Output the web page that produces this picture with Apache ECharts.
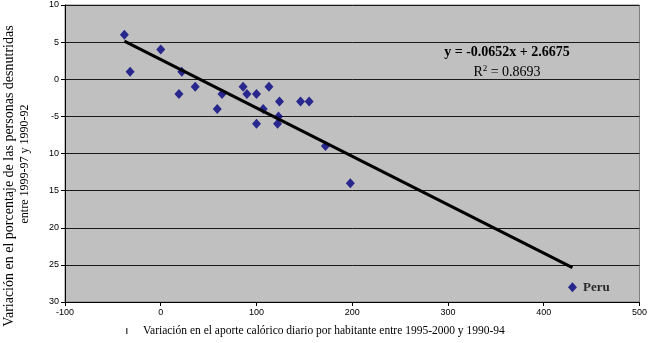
<!DOCTYPE html>
<html>
<head>
<meta charset="utf-8">
<script src="https://cdn.jsdelivr.net/npm/echarts@6/dist/echarts.min.js"></script>
<style>
  html, body { margin: 0; padding: 0; background: #ffffff; }
  #chart { width: 650px; height: 343px; }
</style>
</head>
<body>
<div id="chart"></div>
<script>
// Change in daily calorie supply per person (x) vs change in undernourished share (y)
const countryX = [-38, 0, -32, 22, 19, 36, 64, 59, 86, 90, 100, 113, 107, 100, 124, 123, 122, 146, 155, 172, 198, 430];
const countryY = [6, 4, 1, 1, -2, -1, -2, -4, -1, -2, -2, -1, -4, -6, -3, -5, -6, -3, -3, -9, -14, -28];
const pointNames = ['', '', '', '', '', '', '', '', '', '', '', '', '', '', '', '', '', '', '', '', '', 'Peru'];

// Linear trendline as reported on the chart
const trendSlope = -0.0652;
const trendIntercept = 2.6675;
const trendText = ['y = -0.0652x + 2.6675', 'R\u00b2 = 0.8693'];

// Axis tick labels
const xTickValues = [-100, 0, 100, 200, 300, 400, 500];
const xTickLabels = ['-100', '0', '100', '200', '300', '400', '500'];
const yTickValues = [-30, -25, -20, -15, -10, -5, 0, 5, 10];
const yTickLabels = ['30', '25', '20', '15', '10', '-5', '0', '5', '10'];

const yTitleLines = ['Variación en el porcentaje de las personas desnutridas', 'entre 1999-97 y 1990-92'];
const xTitle = 'Variación en el aporte calórico diario por habitante entre 1995-2000 y 1990-94';

const scatterData = countryX.map((x, i) => ({
  value: [x, countryY[i]],
  name: pointNames[i],
  label: pointNames[i] ? {
    show: true, position: 'right', distance: 6,
    formatter: '{b}', color: '#000', fontFamily: 'Liberation Serif',
    fontWeight: 'bold', fontSize: 13
  } : { show: false }
}));

const xMinData = Math.min(...countryX);
const xMaxData = Math.max(...countryX);
const trendData = [xMinData, xMaxData].map(x => [x, trendSlope * x + trendIntercept]);

const chart = echarts.init(document.getElementById('chart'), null, { renderer: 'canvas' });

const tickFont = { fontFamily: 'Liberation Sans', fontSize: 9, color: '#000' };

chart.setOption({
  animation: false,
  backgroundColor: '#ffffff',
  grid: {
    left: 65, right: 9, top: 5, bottom: 41,
    show: true, backgroundColor: '#c0c0c0',
    borderColor: '#808080', borderWidth: 1
  },
  xAxis: {
    type: 'value', min: -100, max: 500, interval: 100,
    axisLine: { show: true, onZero: false, lineStyle: { color: '#000', width: 1 } },
    axisTick: { show: true, length: 4, lineStyle: { color: '#000' } },
    splitLine: { show: false },
    axisLabel: Object.assign({
      margin: 6,
      formatter: v => { const i = xTickValues.indexOf(v); return i >= 0 ? xTickLabels[i] : ''; }
    }, tickFont)
  },
  yAxis: {
    type: 'value', min: -30, max: 10, interval: 5,
    axisLine: { show: true, onZero: false, lineStyle: { color: '#000', width: 1 } },
    axisTick: { show: true, length: 4, lineStyle: { color: '#000' } },
    splitLine: { show: true, lineStyle: { color: '#1a1a1a', width: 1 } },
    axisLabel: Object.assign({
      margin: 6,
      formatter: v => { const i = yTickValues.indexOf(v); return i >= 0 ? yTickLabels[i] : ''; }
    }, tickFont)
  },
  series: [
    {
      type: 'scatter',
      data: scatterData,
      symbol: 'diamond',
      symbolSize: [9, 10],
      itemStyle: { color: '#000080' },
      z: 2
    },
    {
      type: 'line',
      data: trendData,
      symbol: 'none',
      lineStyle: { color: '#000', width: 3 },
      z: 3,
      silent: true
    }
  ],
  graphic: [
    {
      type: 'text', x: 507, y: 52,
      style: {
        text: trendText[0], fill: '#000', font: 'bold 14px "Liberation Serif"',
        align: 'center', verticalAlign: 'middle'
      }
    },
    {
      type: 'text', x: 507, y: 72,
      style: {
        rich: { r: { fontFamily: 'Liberation Serif', fontSize: 14, fill: '#000' },
                s: { fontFamily: 'Liberation Serif', fontSize: 9, fill: '#000', verticalAlign: 'top', padding: [0, 0, 6, 0] } },
        text: '{r|R}{s|2}{r| = 0.8693}',
        align: 'center', verticalAlign: 'middle'
      }
    },
    {
      type: 'text', x: 9, y: 176, rotation: Math.PI / 2,
      style: {
        text: yTitleLines[0], fill: '#000', font: '14px "Liberation Serif"',
        align: 'center', verticalAlign: 'middle'
      }
    },
    {
      type: 'text', x: 25, y: 164, rotation: Math.PI / 2,
      style: {
        text: yTitleLines[1], fill: '#000', font: '12px "Liberation Serif"',
        align: 'center', verticalAlign: 'middle'
      }
    },
    {
      type: 'rect', shape: { x: 126, y: 328, width: 1.5, height: 6 },
      style: { fill: '#555' }
    },
    {
      type: 'text', x: 143, y: 331,
      style: {
        text: xTitle, fill: '#000', font: '11.5px "Liberation Serif"',
        align: 'left', verticalAlign: 'middle'
      }
    }
  ]
});
</script>
</body>
</html>
